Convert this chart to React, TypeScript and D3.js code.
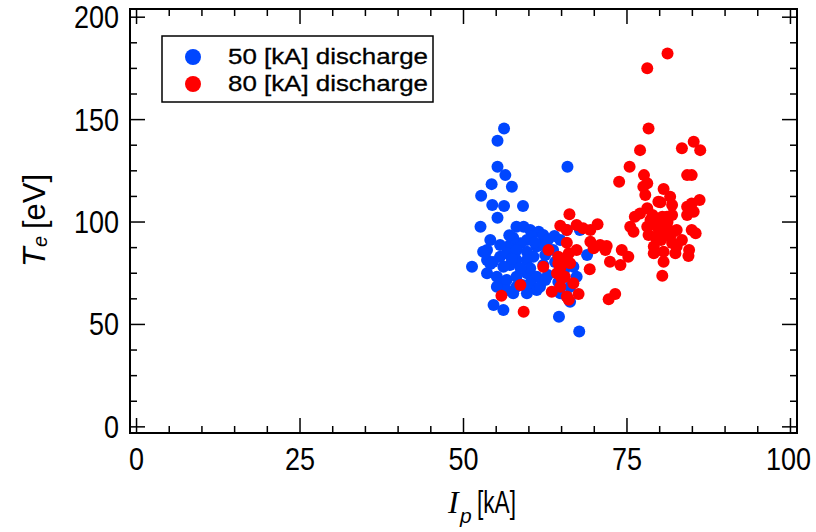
import React from "react";
import * as d3 from "d3";

const xTickValues = [0, 25, 50, 75, 100];
const yTickValues = [0, 50, 100, 150, 200];
const legendLabels = ["50 [kA] discharge", "80 [kA] discharge"];

const blueIp = [
  56.2, 55.2, 65.9, 55.2, 56.4, 54.3, 57.4, 52.7, 54.4, 56.2, 59.1, 55.2, 52.6, 51.3, 54.6, 56.1, 64.6, 67.7,
  58.1, 59.2, 60.2, 61.5, 62.2, 60.4, 59.7, 58.7, 57.1, 54.1, 53.6, 53.0, 55.6, 56.6, 58.1, 59.7, 61.2, 61.7,
  60.7, 59.7, 58.1, 57.1, 56.1, 53.6, 55.1, 55.6, 56.6, 58.1, 59.7, 61.2, 60.2, 58.1, 56.6, 55.1, 61.2, 61.7,
  57.6, 59.7, 65.8, 67.8, 68.9, 66.8, 67.3, 66.3, 65.8, 64.8, 66.3, 53.6, 60.2, 62.2, 62.9, 63.7, 64.0, 62.9,
  54.5, 57.6, 55.6, 58.7, 62.5, 63.9, 64.8, 65.4, 64.5, 57.4, 59.0, 62.5, 54.1, 60.9, 57.0,
];
const blueTe = [
  145.7, 139.7, 127.0, 127.0, 122.9, 118.5, 117.2, 112.8, 108.3, 107.8, 107.8, 102.1, 97.7, 78.2, 59.5, 57.1, 53.8, 46.5,
  97.7, 97.7, 96.1, 95.3, 93.7, 92.8, 91.2, 89.6, 88.8, 91.2, 86.3, 85.5, 83.1, 84.7, 86.3, 85.5, 88.0, 88.8,
  83.1, 81.5, 81.5, 79.0, 78.2, 75.0, 73.3, 70.1, 71.7, 73.3, 75.0, 73.3, 70.1, 68.4, 66.8, 68.4, 66.8, 68.4,
  65.2, 65.2, 96.1, 96.1, 83.9, 78.2, 73.3, 68.4, 63.6, 65.2, 61.1, 81.5, 77.4, 79.0, 91.2, 86.3, 80.5, 74.1,
  80.5, 92.3, 88.8, 77.6, 83.9, 93.2, 91.2, 76.6, 70.7, 82.0, 69.3, 71.7, 79.5, 90.0, 93.5,
];

const redIp = [
  81.2, 78.1, 78.3, 85.2, 83.4, 86.2, 77.0, 75.4, 73.8, 77.6, 78.1, 77.5, 77.8, 80.6, 81.6, 80.1, 81.9, 84.2,
  84.9, 86.1, 84.9, 84.2, 85.2, 84.2, 78.1, 77.0, 76.2, 75.5, 76.0, 78.6, 79.8, 81.1, 81.9, 79.6, 81.1, 82.1,
  80.6, 81.6, 84.9, 85.5, 83.4, 82.6, 79.1, 79.1, 80.6, 82.4, 80.6, 84.4, 80.4, 79.6, 78.1, 79.8, 80.4, 82.6,
  79.3, 74.2, 75.2, 74.0, 66.2, 64.8, 65.8, 67.3, 68.3, 69.4, 70.5, 65.8, 69.4, 69.9, 70.9, 71.9, 71.7, 72.4,
  69.3, 73.2, 72.2, 63.0, 62.2, 64.5, 65.3, 67.3, 66.3, 64.3, 65.0, 63.5, 65.8, 67.6, 66.8, 64.8, 64.8, 65.5,
  66.1, 58.7, 55.8, 59.2, 66.1, 64.5, 78.9, 81.2, 80.2, 81.9, 78.3, 84.5,
];
const redTe = [
  182.3, 175.1, 145.7, 139.2, 136.0, 135.1, 135.1, 127.0, 119.7, 122.9, 118.9, 117.2, 113.2, 116.1, 112.3, 109.6, 108.3, 122.9,
  122.9, 110.7, 109.1, 107.5, 105.0, 103.4, 106.7, 104.2, 102.6, 97.7, 95.3, 101.0, 101.0, 102.6, 103.4, 97.7, 97.7, 95.3,
  94.5, 92.8, 96.1, 94.5, 91.2, 88.0, 88.0, 84.7, 85.5, 84.7, 80.6, 83.4, 73.8, 91.2, 97.7, 109.9, 102.6, 96.1,
  92.8, 86.3, 83.1, 79.0, 103.8, 98.2, 96.1, 98.5, 96.9, 96.1, 98.9, 89.9, 90.4, 87.2, 88.8, 88.3, 86.3, 80.6,
  76.9, 64.9, 62.3, 86.3, 78.2, 83.1, 81.5, 86.3, 79.9, 75.0, 72.5, 66.0, 63.6, 64.9, 70.1, 68.4, 77.6, 73.3,
  62.0, 69.3, 64.0, 56.2, 84.7, 79.9, 103.4, 100.0, 91.2, 89.8, 93.7, 86.3,
];

const BLUE = "#0046ff";
const RED = "#ff0000";
const TICK_FONT = "'Liberation Sans', Arial, sans-serif";
const LABEL_FONT = "'Liberation Sans', Arial, sans-serif";

export default function App() {
  const W = 816;
  const H = 532;
  const left = 130, right = 797, top = 9, bottom = 433;
  const x = d3.scaleLinear().domain([-1, 101]).range([left, right]);
  const y = d3.scaleLinear().domain([-3, 204]).range([bottom, top]);
  const xMinor = d3.range(0, 101, 5);
  const yMinor = d3.range(0, 201, 12.5);
  const major = 15;
  const minor = 7;
  const digitW = 15;

  const blue = blueIp.map((v, i) => [v, blueTe[i]]);
  const red = redIp.map((v, i) => [v, redTe[i]]);

  return (
    <svg width={W} height={H} style={{ position: "absolute", left: 0, top: 0, background: "#fff" }}>
      <rect x={0} y={0} width={W} height={H} fill="#fff" />
      {blue.map((d, i) => (
        <circle key={"b" + i} cx={x(d[0])} cy={y(d[1])} r={6} fill={BLUE} />
      ))}
      {red.map((d, i) => (
        <circle key={"r" + i} cx={x(d[0])} cy={y(d[1])} r={6} fill={RED} />
      ))}
      <g stroke="#000" strokeWidth={1.5}>
        {xMinor.map((v) => {
          const l = v % 25 === 0 ? major : minor;
          return (
            <g key={"xt" + v}>
              <line x1={x(v)} x2={x(v)} y1={bottom} y2={bottom - l} />
              <line x1={x(v)} x2={x(v)} y1={top} y2={top + l} />
            </g>
          );
        })}
        {yMinor.map((v) => {
          const l = v % 50 === 0 ? major : minor;
          return (
            <g key={"yt" + v}>
              <line x1={left} x2={left + l} y1={y(v)} y2={y(v)} />
              <line x1={right} x2={right - l} y1={y(v)} y2={y(v)} />
            </g>
          );
        })}
      </g>
      <rect x={left} y={top} width={right - left} height={bottom - top} fill="none" stroke="#000" strokeWidth={2} />
      {xTickValues.map((v) => (
        <text key={"xl" + v} x={v === 100 ? x(v) - 2 : x(v)} y={470} textAnchor="middle" fontFamily={TICK_FONT} fontSize={31} fill="#000"
          textLength={String(v).length * digitW} lengthAdjust="spacingAndGlyphs">
          {v}
        </text>
      ))}
      {yTickValues.map((v) => (
        <text key={"yl" + v} x={119} y={y(v) + 11} textAnchor="end" fontFamily={TICK_FONT} fontSize={31} fill="#000"
          textLength={String(v).length * digitW} lengthAdjust="spacingAndGlyphs">
          {v}
        </text>
      ))}
      {/* x axis label */}
      <text x={448} y={513} fontFamily="'Liberation Serif', serif" fontStyle="italic" fontSize={32} fill="#000">I</text>
      <text x={460} y={523} fontFamily={LABEL_FONT} fontStyle="italic" fontSize={21} fill="#000">p</text>
      <text x={477} y={513} fontFamily={LABEL_FONT} fontSize={31} fill="#000" textLength={39} lengthAdjust="spacingAndGlyphs">[kA]</text>
      {/* y axis label */}
      <g transform="translate(45,220) rotate(-90)">
        <text x={-47} y={0} fontFamily={LABEL_FONT} fontStyle="italic" fontSize={32} fill="#000">T</text>
        <text x={-27} y={2} fontFamily={LABEL_FONT} fontStyle="italic" fontSize={20} fill="#000">e</text>
        <text x={-9} y={0} fontFamily={LABEL_FONT} fontSize={31} fill="#000">[eV]</text>
      </g>
      {/* legend */}
      <rect x={162} y={36} width={271} height={66} fill="#fff" stroke="#000" strokeWidth={1.5} />
      {legendLabels.map((t, i) => (
        <g key={"lg" + i}>
          <circle cx={193} cy={57 + i * 27} r={8} fill={i === 0 ? BLUE : RED} />
          <text x={228} y={64 + i * 27} fontFamily={LABEL_FONT} fontSize={22} fill="#000" stroke="#000" strokeWidth={0.3}
            textLength={200} lengthAdjust="spacingAndGlyphs">
            {t}
          </text>
        </g>
      ))}
    </svg>
  );
}
